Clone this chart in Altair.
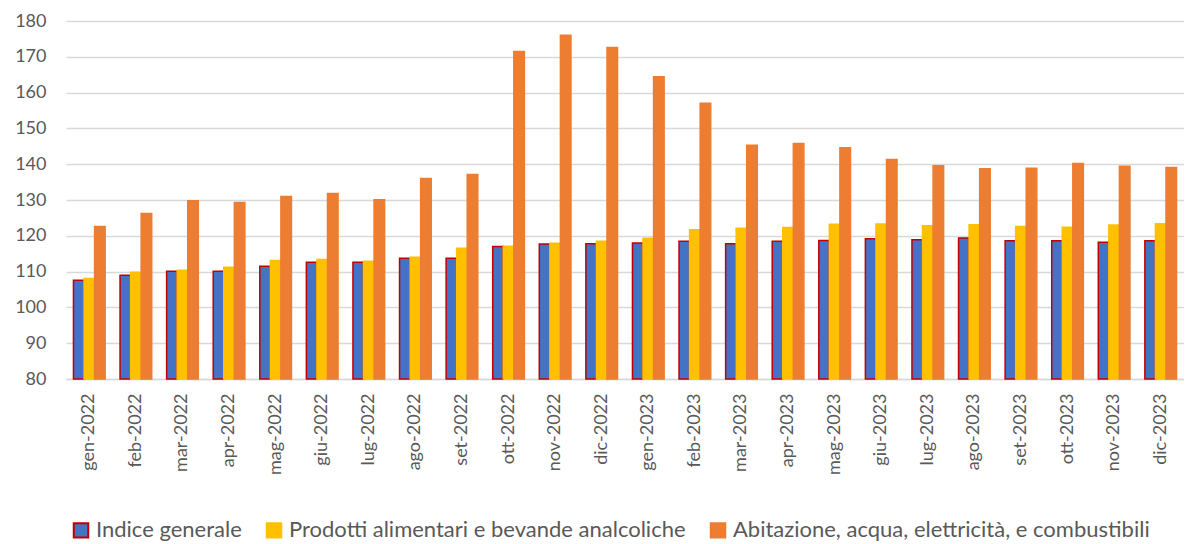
import altair as alt
import pandas as pd

months = ["gen-2022", "feb-2022", "mar-2022", "apr-2022", "mag-2022", "giu-2022",
          "lug-2022", "ago-2022", "set-2022", "ott-2022", "nov-2022", "dic-2022",
          "gen-2023", "feb-2023", "mar-2023", "apr-2023", "mag-2023", "giu-2023",
          "lug-2023", "ago-2023", "set-2023", "ott-2023", "nov-2023", "dic-2023"]

series_names = ["Indice generale",
                "Prodotti alimentari e bevande analcoliche",
                "Abitazione, acqua, elettricità, e combustibili"]

indice_generale = [107.6, 109.0, 110.1, 110.1, 111.5, 112.6, 112.6, 113.7, 113.7, 117.0, 117.7, 117.8,
                   118.0, 118.5, 117.8, 118.5, 118.7, 119.2, 118.9, 119.4, 118.6, 118.6, 118.2, 118.6]
alimentari = [108.1, 109.8, 110.4, 111.2, 113.1, 113.4, 112.9, 114.0, 116.5, 117.1, 117.9, 118.5,
              119.3, 121.7, 122.1, 122.3, 123.2, 123.3, 122.8, 123.1, 122.6, 122.4, 123.0, 123.4]
abitazione = [122.6, 126.2, 129.8, 129.3, 131.0, 131.8, 130.1, 136.0, 137.1, 171.5, 176.0, 172.6,
              164.4, 157.0, 145.3, 145.8, 144.6, 141.3, 139.6, 138.7, 138.9, 140.2, 139.4, 139.1]

colors = ["#4472C4", "#FFC000", "#ED7D31"]
strokes = ["#C00000", "#FFC000", "#ED7D31"]

rows = []
for vals, name in zip([indice_generale, alimentari, abitazione], series_names):
    for m, v in zip(months, vals):
        rows.append({"mese": m, "serie": name, "valore": v})
df = pd.DataFrame(rows)

FONT = "Lato"
GREY = "#595959"

legend = alt.Legend(orient="none", legendX=4, legendY=498, direction="horizontal",
                    symbolType="square", symbolSize=210, symbolStrokeWidth=2,
                    labelFontSize=22, labelFont=FONT, labelColor=GREY, columnPadding=20,
                    labelOffset=4, labelLimit=700)

chart = alt.Chart(df).mark_bar(strokeWidth=1.5).encode(
    x=alt.X("mese:N", sort=months, title=None,
            scale=alt.Scale(paddingInner=0.32, paddingOuter=0.16),
            axis=alt.Axis(labelAngle=-90, labelFontSize=18, labelColor=GREY, labelFont=FONT,
                          ticks=False, labelPadding=14, domainColor="#D9D9D9", domainWidth=1.5,
                          grid=False)),
    xOffset=alt.XOffset("serie:N", sort=series_names),
    y=alt.Y("valore:Q", title=None,
            scale=alt.Scale(domain=[80, 180], zero=False, nice=False),
            axis=alt.Axis(values=list(range(80, 181, 10)), labelFontSize=18, labelColor=GREY,
                          labelFont=FONT, ticks=False, domain=False, labelPadding=20,
                          minExtent=58, gridColor="#D9D9D9", gridWidth=1.5)),
    y2=alt.datum(80),
    color=alt.Color("serie:N", sort=series_names, title=None,
                    scale=alt.Scale(domain=series_names, range=colors),
                    legend=legend),
    stroke=alt.Stroke("serie:N", sort=series_names, title=None,
                      scale=alt.Scale(domain=series_names, range=strokes),
                      legend=legend),
).properties(
    width=1118, height=358,
    padding={"left": 0, "right": 0, "top": 4, "bottom": 0},
).configure_view(stroke=None)

chart.save("out.html", embed_options={"renderer": "svg", "actions": False})
